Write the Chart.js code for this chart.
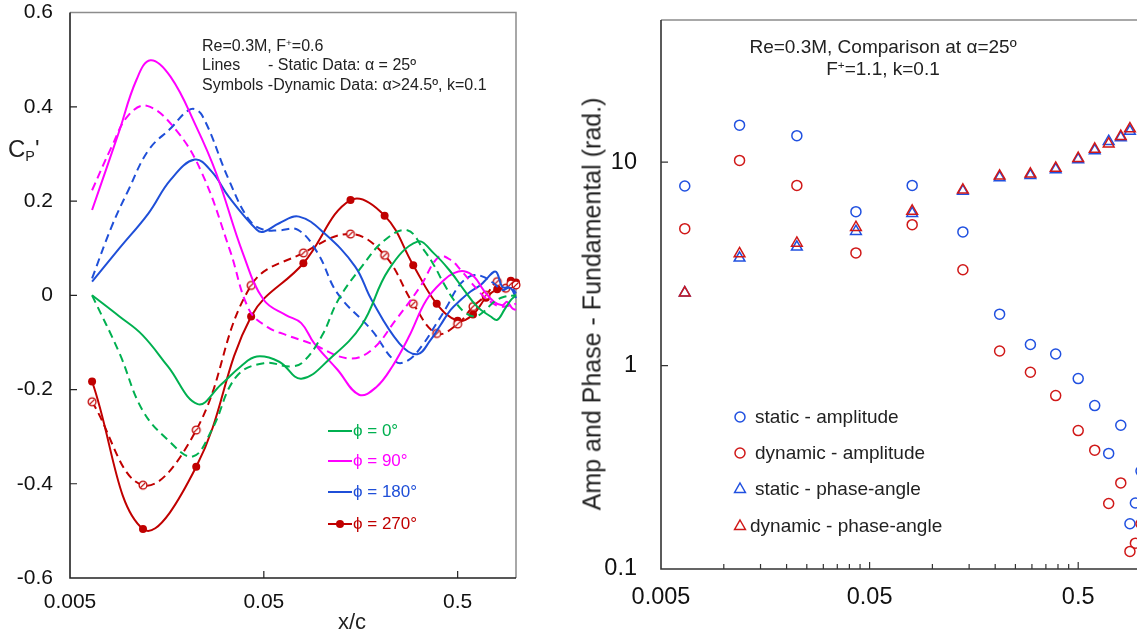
<!DOCTYPE html>
<html>
<head>
<meta charset="utf-8">
<style>
  html, body { margin: 0; padding: 0; background: #fff; overflow: hidden; }
  body { width: 1137px; height: 637px; position: relative; font-family: "Liberation Sans", Arial, sans-serif; color: #222; }
  canvas { position: absolute; top: 0; }
  #cpChart { left: 0; }
  #ampChart { left: 560px; }
  .txt { position: absolute; white-space: nowrap; }
  sup { font-size: 0.62em; vertical-align: 0.5em; line-height: 0; }
  sub { font-size: 0.6em; vertical-align: -0.25em; line-height: 0; }
  .leg { position: absolute; display: flex; align-items: center; white-space: nowrap; }
  .leg svg { display: block; }
</style>
</head>
<body>
<canvas id="cpChart" width="560" height="637"></canvas>
<canvas id="ampChart" width="600" height="637"></canvas>

<div class="txt" style="left:202px; top:36px; font-size:16px; line-height:19.3px;">
Re=0.3M, F<sup>+</sup>=0.6<br>
<span style="display:inline-block; width:66px;">Lines</span>- Static Data: α = 25º<br>
Symbols -Dynamic Data: α&gt;24.5º, k=0.1
</div>

<div class="txt" style="left:8px; top:132px; font-size:24px; line-height:34px;">C<sub>P</sub>'</div>
<div class="txt" style="left:338px; top:609px; font-size:22px; line-height:26px;">x/c</div>

<div id="legL"></div>

<div class="txt" style="left:683px; top:36px; width:400px; text-align:center; font-size:19px; line-height:22px;">
Re=0.3M, Comparison at α=25º<br>F<sup>+</sup>=1.1, k=0.1
</div>

<div class="txt" style="left:592px; top:304px; font-size:25px; line-height:25px; transform: translate(-50%, -50%) rotate(-90deg);">Amp and Phase - Fundamental (rad.)</div>

<div id="legR"></div>

<script src="https://cdn.jsdelivr.net/npm/chart.js"></script>
<script>
// pressure ports (x/c) used by the symbols
const ports = [0.0065, 0.0119, 0.0224, 0.043, 0.080, 0.14, 0.21, 0.295, 0.39, 0.5, 0.6, 0.7, 0.8, 0.885, 0.94, 1.0];

// left chart: Cp' lines
const phi0StaticX = [0.0065, 0.009, 0.0118, 0.016, 0.0228, 0.030, 0.038, 0.046, 0.060, 0.078, 0.11, 0.16, 0.22, 0.31, 0.377, 0.46, 0.54, 0.63, 0.74, 0.80, 0.87, 0.94, 1.0];
const phi0StaticY = [0, -0.045, -0.084, -0.151, -0.231, -0.190, -0.151, -0.130, -0.141, -0.177, -0.134, -0.063, 0.054, 0.114, 0.089, 0.050, 0.011, -0.024, -0.045, -0.052, -0.031, -0.010, 0.0];

const phi0DynX = [0.0065, 0.009, 0.0118, 0.016, 0.0215, 0.027, 0.036, 0.050, 0.069, 0.080, 0.10, 0.121, 0.16, 0.21, 0.275, 0.335, 0.377, 0.424, 0.478, 0.54, 0.61, 0.68, 0.77, 0.87, 1.0];
const phi0DynY = [0, -0.123, -0.243, -0.307, -0.342, -0.285, -0.173, -0.144, -0.151, -0.141, -0.085, -0.010, 0.061, 0.117, 0.138, 0.096, 0.064, 0.025, -0.010, -0.035, -0.045, -0.035, -0.014, -0.003, 0.0];

const phi90StaticX = [0.0065, 0.0089, 0.011, 0.013, 0.0165, 0.0224, 0.0284, 0.039, 0.050, 0.065, 0.078, 0.091, 0.12, 0.155, 0.19, 0.23, 0.28, 0.345, 0.424, 0.478, 0.54, 0.61, 0.68, 0.77, 0.85, 0.90, 0.96, 1.0];
const phi90StaticY = [0.181, 0.344, 0.457, 0.499, 0.464, 0.358, 0.259, 0.089, -0.010, -0.042, -0.059, -0.102, -0.158, -0.211, -0.195, -0.151, -0.088, -0.010, 0.032, 0.047, 0.051, 0.039, 0.011, -0.014, -0.021, -0.014, -0.028, -0.031];

const phi90DynX = [0.0065, 0.0082, 0.010, 0.0125, 0.0176, 0.024, 0.0334, 0.042, 0.052, 0.065, 0.087, 0.137, 0.18, 0.24, 0.32, 0.40, 0.46, 0.518, 0.583, 0.657, 0.74, 0.833, 0.938, 1.0];
const phi90DynY = [0.223, 0.315, 0.382, 0.402, 0.351, 0.259, 0.096, -0.031, -0.067, -0.084, -0.102, -0.134, -0.116, -0.052, 0.018, 0.082, 0.075, 0.054, 0.029, 0.004, -0.014, -0.024, -0.021, -0.018];

const phi180StaticX = [0.0065, 0.009, 0.0127, 0.0165, 0.022, 0.027, 0.033, 0.046, 0.050, 0.060, 0.076, 0.103, 0.148, 0.18, 0.25, 0.31, 0.362, 0.408, 0.46, 0.518, 0.583, 0.657, 0.71, 0.77, 0.80, 0.85, 0.94, 1.0];
const phi180StaticY = [0.029, 0.100, 0.174, 0.245, 0.288, 0.262, 0.209, 0.139, 0.135, 0.153, 0.167, 0.131, 0.061, -0.010, -0.102, -0.125, -0.095, -0.063, -0.031, -0.010, 0.008, 0.022, 0.036, 0.050, 0.047, 0.018, 0.015, -0.006];

const phi180DynX = [0.0065, 0.0082, 0.010, 0.0127, 0.0165, 0.021, 0.024, 0.033, 0.042, 0.050, 0.060, 0.075, 0.095, 0.12, 0.18, 0.24, 0.28, 0.33, 0.39, 0.44, 0.49, 0.54, 0.61, 0.68, 0.77, 0.85, 0.94, 1.0];
const phi180DynY = [0.036, 0.146, 0.223, 0.308, 0.354, 0.395, 0.382, 0.245, 0.160, 0.139, 0.138, 0.139, 0.089, 0.004, -0.074, -0.141, -0.137, -0.105, -0.059, -0.024, 0.011, 0.032, 0.043, 0.039, 0.025, 0.011, 0.018, 0.004];

const phi270StaticY = [-0.183, -0.496, -0.364, -0.045, 0.068, 0.202, 0.169, 0.064, -0.018, -0.054, -0.041, -0.005, 0.013, 0.015, 0.031, 0.027];
const phi270DynY = [-0.226, -0.403, -0.286, 0.021, 0.090, 0.130, 0.085, -0.018, -0.081, -0.061, -0.024, 0.0, 0.029, 0.015, 0.024, 0.022];

// right chart: amplitude and phase of the fundamental
const staticAmp = [7.64, 15.2, 13.5, 5.71, 7.69, 4.54, 1.79, 1.27, 1.14, 0.863, 0.636, 0.37, 0.509, 0.167, 0.211, 0.303];
const dynamicAmp = [4.71, 10.2, 7.69, 3.58, 4.93, 2.96, 1.18, 0.927, 0.712, 0.479, 0.384, 0.21, 0.265, 0.122, 0.134, 0.167];
const staticPhase = [2.28, 3.38, 3.83, 4.57, 5.6, 7.2, 8.4, 8.6, 9.2, 10.3, 11.4, 12.66, 13.2, 14.2, null, null];
const dynamicPhase = [2.28, 3.55, 4.0, 4.78, 5.75, 7.3, 8.55, 8.75, 9.35, 10.45, 11.6, 12.3, 13.4, 14.6, null, null];

// ticks
const xMajor = [0.005, 0.05, 0.5];
const xMajorLabels = ["0.005", "0.05", "0.5"];
const xMinor = [0.01, 0.015, 0.02, 0.025, 0.03, 0.035, 0.04, 0.045, 0.1, 0.15, 0.2, 0.25, 0.3, 0.35, 0.4, 0.45];
const cpTicks = [-0.6, -0.4, -0.2, 0, 0.2, 0.4, 0.6];
const cpLabels = ["-0.6", "-0.4", "-0.2", "0", "0.2", "0.4", "0.6"];
const ampTicks = [0.1, 1, 10];
const ampLabels = ["0.1", "1", "10"];

const green = "#00b050", magenta = "#ff00ff", blue = "#1f4fd8", red = "#c00000";
const blueR = "#2050e0", redR = "#d01818";

const pts = (xs, ys) => xs.map((x, i) => ({ x: x, y: ys[i] }));
const near = (a, b) => Math.abs(a - b) <= Math.abs(b) * 1e-6 + 1e-12;

function slashedCircle(color) {
  const c = document.createElement("canvas");
  c.width = 12; c.height = 12;
  const g = c.getContext("2d");
  g.strokeStyle = color; g.fillStyle = "#fff"; g.lineWidth = 1.3;
  g.beginPath(); g.arc(6, 6, 3.9, 0, Math.PI * 2); g.fill(); g.stroke();
  g.beginPath(); g.moveTo(3.6, 8.4); g.lineTo(8.4, 3.6); g.stroke();
  return c;
}

// frame and inward tick marks
const frameTicks = {
  id: "frameTicks",
  beforeDatasetsDraw(chart, args, o) {
    const { ctx, chartArea: a } = chart;
    const xs = chart.scales.x, ys = chart.scales.y;
    ctx.save();
    ctx.lineWidth = 1.5;
    ctx.strokeStyle = o.frameColor;
    ctx.beginPath();
    ctx.moveTo(a.left, a.top); ctx.lineTo(a.right, a.top); ctx.lineTo(a.right, a.bottom);
    ctx.stroke();
    ctx.strokeStyle = o.axisColor;
    ctx.lineWidth = 1.6;
    ctx.beginPath();
    ctx.moveTo(a.left, a.top); ctx.lineTo(a.left, a.bottom); ctx.lineTo(a.right, a.bottom);
    ctx.stroke();
    ctx.lineWidth = 1.2;
    ctx.beginPath();
    o.xMajor.forEach(v => {
      const p = xs.getPixelForValue(v);
      if (p > a.left + 1 && p < a.right - 1) { ctx.moveTo(p, a.bottom); ctx.lineTo(p, a.bottom - o.majorLen); }
    });
    o.xMinor.forEach(v => {
      const p = xs.getPixelForValue(v);
      ctx.moveTo(p, a.bottom); ctx.lineTo(p, a.bottom - o.minorLen);
    });
    o.yMajor.forEach(v => {
      const p = ys.getPixelForValue(v);
      if (p > a.top + 1 && p < a.bottom - 1) { ctx.moveTo(a.left, p); ctx.lineTo(a.left + o.majorLen, p); }
    });
    ctx.stroke();
    ctx.restore();
  }
};

function tickCb(values, labels) {
  return function (v) {
    const i = values.findIndex(m => near(v, m));
    return i >= 0 ? labels[i] : "";
  };
}

// ---------- left chart ----------
const cpDatasets = [
  { data: pts(phi0StaticX, phi0StaticY), borderColor: green },
  { data: pts(phi0DynX, phi0DynY), borderColor: green, borderDash: [8, 5] },
  { data: pts(phi90StaticX, phi90StaticY), borderColor: magenta },
  { data: pts(phi90DynX, phi90DynY), borderColor: magenta, borderDash: [8, 5] },
  { data: pts(phi180StaticX, phi180StaticY), borderColor: blue },
  { data: pts(phi180DynX, phi180DynY), borderColor: blue, borderDash: [8, 5] },
  { data: pts(ports, phi270DynY), borderColor: red, borderDash: [8, 5], pointRadius: 4, pointStyle: slashedCircle(red) },
  { data: pts(ports, phi270StaticY), borderColor: red, pointRadius: 4, pointStyle: "circle", pointBackgroundColor: red, pointBorderColor: red, pointBorderWidth: 0 }
].map(d => Object.assign({ borderWidth: 2, pointRadius: 0, tension: 0.4, clip: false, fill: false }, d));

new Chart(document.getElementById("cpChart"), {
  type: "line",
  data: { datasets: cpDatasets },
  plugins: [frameTicks],
  options: {
    responsive: false,
    animation: false,
    events: [],
    layout: { autoPadding: false, padding: { left: 0, right: 44, top: 12, bottom: 0 } },
    plugins: {
      legend: { display: false },
      tooltip: { enabled: false },
      frameTicks: { frameColor: "#8c8c8c", axisColor: "#222", majorLen: 7, minorLen: 5, xMajor: xMajor, xMinor: [], yMajor: cpTicks }
    },
    scales: {
      x: {
        type: "logarithmic", min: 0.005, max: 1.0,
        afterBuildTicks: s => { s.ticks = xMajor.map(v => ({ value: v })); },
        afterFit: s => { s.height = 59; },
        grid: { display: false, drawTicks: false },
        border: { display: false },
        ticks: { autoSkip: false, maxRotation: 0, padding: 12, color: "#111", font: { family: "Liberation Sans", size: 21 }, callback: tickCb(xMajor, xMajorLabels) }
      },
      y: {
        type: "linear", min: -0.6, max: 0.6,
        afterBuildTicks: s => { s.ticks = cpTicks.map(v => ({ value: v })); },
        afterFit: s => { s.width = 70; },
        grid: { display: false, drawTicks: true, tickLength: 17 },
        border: { display: false },
        ticks: { padding: 0, color: "#111", font: { family: "Liberation Sans", size: 21 }, callback: tickCb(cpTicks, cpLabels) }
      }
    }
  }
});

// ---------- right chart ----------
const ampDatasets = [
  { data: pts(ports, dynamicPhase), borderColor: redR, pointStyle: "triangle", pointRadius: 6.2, order: 0 },
  { data: pts(ports, staticPhase), borderColor: blueR, pointStyle: "triangle", pointRadius: 6.2, order: 1 },
  { data: pts(ports, dynamicAmp), borderColor: redR, pointStyle: "circle", pointRadius: 5, order: 2 },
  { data: pts(ports, staticAmp), borderColor: blueR, pointStyle: "circle", pointRadius: 5, order: 3 }
].map(d => Object.assign({ backgroundColor: "rgba(0,0,0,0)", borderWidth: 1.5, clip: false, showLine: false }, d));

new Chart(document.getElementById("ampChart"), {
  type: "scatter",
  data: { datasets: ampDatasets },
  plugins: [frameTicks],
  options: {
    responsive: false,
    animation: false,
    events: [],
    layout: { autoPadding: false, padding: { left: 0, right: 19, top: 20, bottom: 0 } },
    plugins: {
      legend: { display: false },
      tooltip: { enabled: false },
      frameTicks: { frameColor: "#8c8c8c", axisColor: "#333", majorLen: 7, minorLen: 5, xMajor: xMajor, xMinor: xMinor, yMajor: ampTicks }
    },
    scales: {
      x: {
        type: "logarithmic", min: 0.005, max: 1.0,
        afterBuildTicks: s => { s.ticks = xMajor.map(v => ({ value: v })); },
        afterFit: s => { s.height = 68; },
        grid: { display: false, drawTicks: false },
        border: { display: false },
        ticks: { autoSkip: false, maxRotation: 0, padding: 14, color: "#111", font: { family: "Liberation Sans", size: 23.5 }, callback: tickCb(xMajor, xMajorLabels) }
      },
      y: {
        type: "logarithmic", min: 0.1, max: 50,
        afterBuildTicks: s => { s.ticks = ampTicks.map(v => ({ value: v })); },
        afterFit: s => { s.width = 101; },
        grid: { display: false, drawTicks: true, tickLength: 24 },
        border: { display: false },
        ticks: { padding: 0, color: "#111", font: { family: "Liberation Sans", size: 23.5 }, callback: tickCb(ampTicks, ampLabels) }
      }
    }
  }
});

// ---------- legends (html) ----------
const legL = [
  { y: 430.7, color: green, text: "ϕ = 0°", dot: false },
  { y: 460.7, color: magenta, text: "ϕ = 90°", dot: false },
  { y: 491.7, color: blue, text: "ϕ = 180°", dot: false },
  { y: 524.3, color: red, text: "ϕ = 270°", dot: true }
];
document.getElementById("legL").innerHTML = legL.map(e =>
  `<div class="leg" style="left:328px; top:${e.y - 10}px; height:20px; font-size:17px; color:${e.color};">` +
  `<svg width="24" height="20"><line x1="0" y1="10" x2="24" y2="10" stroke="${e.color}" stroke-width="2"/>` +
  (e.dot ? `<circle cx="12" cy="10" r="4" fill="${e.color}"/>` : "") +
  `</svg><span style="margin-left:1px; line-height:20px;">${e.text}</span></div>`
).join("");

const legR = [
  { y: 416.7, color: blueR, shape: "circle", text: "static - amplitude", gap: 7 },
  { y: 452.7, color: redR, shape: "circle", text: "dynamic - amplitude", gap: 7 },
  { y: 489.3, color: blueR, shape: "triangle", text: "static - phase-angle", gap: 7 },
  { y: 526, color: redR, shape: "triangle", text: "dynamic - phase-angle", gap: 2 }
];
document.getElementById("legR").innerHTML = legR.map(e =>
  `<div class="leg" style="left:732px; top:${e.y - 11}px; height:22px; font-size:19px; color:#222;">` +
  `<svg width="16" height="22">` +
  (e.shape === "circle"
    ? `<circle cx="8" cy="11" r="5" fill="none" stroke="${e.color}" stroke-width="1.5"/>`
    : `<polygon points="8,5 13.4,14.4 2.6,14.4" fill="none" stroke="${e.color}" stroke-width="1.5"/>`) +
  `</svg><span style="margin-left:${e.gap}px; line-height:22px;">${e.text}</span></div>`
).join("");
</script>
</body>
</html>
